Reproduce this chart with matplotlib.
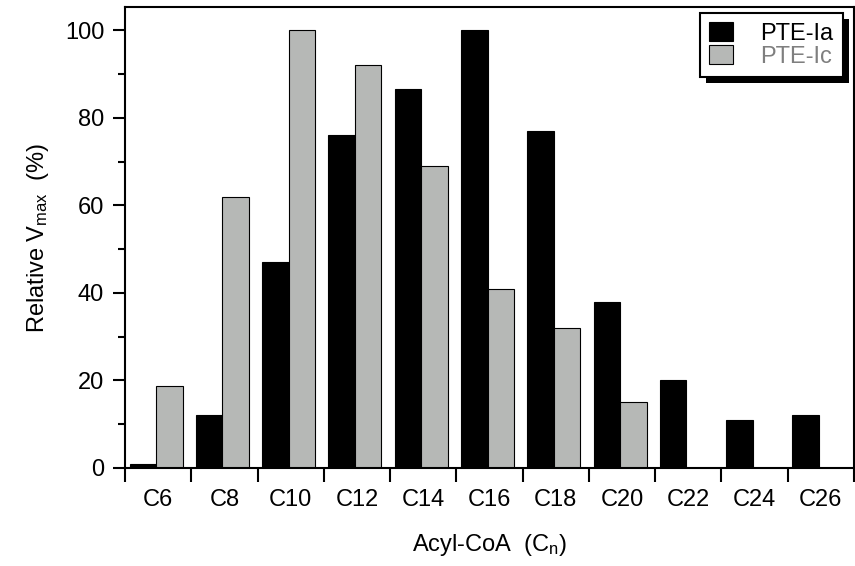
import matplotlib
matplotlib.use("Agg")
import matplotlib.pyplot as plt
import numpy as np
from matplotlib.patches import Rectangle
from matplotlib.ticker import FixedLocator, MultipleLocator

plt.rcParams['font.family'] = ['Liberation Sans', 'DejaVu Sans']
plt.rcParams['mathtext.fontset'] = 'custom'
plt.rcParams['mathtext.rm'] = 'Liberation Sans'
plt.rcParams['mathtext.it'] = 'Liberation Sans'
plt.rcParams['mathtext.default'] = 'regular'

categories = ['C6', 'C8', 'C10', 'C12', 'C14', 'C16', 'C18', 'C20', 'C22', 'C24', 'C26']
pte_ia = [1, 12, 47, 76, 86.5, 100, 77, 38, 20, 11, 12]
pte_ic = [18.7, 62, 100, 92, 69, 41, 32, 15, 0, 0, 0]

FS = 17
fig = plt.figure(figsize=(8.55, 5.66), dpi=100)
ax = fig.add_axes([125/855, 1-468/566, (854-125)/855, (468-7)/566])

x = np.arange(len(categories))
w = 0.4
ax.bar(x - 0.03 - w/2, pte_ia, width=w, color='black', edgecolor='black', linewidth=0.8, label='PTE-Ia')
ic_vals = np.array(pte_ic, dtype=float)
mask = ic_vals > 0
ax.bar(x[mask] - 0.03 + w/2, ic_vals[mask], width=w, color='#b6b8b6', edgecolor='black', linewidth=0.8, label='PTE-Ic')

ax.set_xlim(-0.5, len(categories) - 0.5)
ax.set_ylim(0, 105.3)

ax.set_xticks(x)
ax.set_xticklabels(categories, fontsize=FS)
ax.xaxis.set_minor_locator(FixedLocator(np.arange(-0.5, len(categories) + 0.5, 1)))
ax.tick_params(axis='x', which='major', length=0, pad=15)
ax.tick_params(axis='x', which='minor', length=10, width=1.5, direction='out')

ax.set_yticks([0, 20, 40, 60, 80, 100])
ax.yaxis.set_minor_locator(MultipleLocator(10))
ax.tick_params(axis='y', which='major', length=9, width=1.5, direction='out', labelsize=FS, pad=6)
ax.tick_params(axis='y', which='minor', length=5, width=1.5, direction='out')

for s in ax.spines.values():
    s.set_linewidth(1.5)

ax.set_ylabel('Relative V$_{max}$  (%)', fontsize=FS, labelpad=10)
ax.set_xlabel('Acyl-CoA  (C$_n$)', fontsize=FS, labelpad=15)

leg = ax.legend(loc='upper left', bbox_to_anchor=(700/855, 1-13/566), bbox_transform=fig.transFigure,
                borderaxespad=0, fontsize=FS, frameon=True, fancybox=False, edgecolor='black',
                framealpha=1, handlelength=1.0, handleheight=0.85, handletextpad=1.15,
                labelspacing=0.0, borderpad=0.4, labelcolor=['black', '#7f7f7f'])
leg.get_frame().set_linewidth(1.5)
leg.set_zorder(10)

fig.canvas.draw()
bb = leg.get_window_extent()
shadow = Rectangle((bb.x0 + 6, bb.y0 - 6), bb.width, bb.height, transform=None,
                   facecolor='black', edgecolor='none', zorder=9, clip_on=False)
ax.add_patch(shadow)

fig.savefig('out.png', dpi=100)
